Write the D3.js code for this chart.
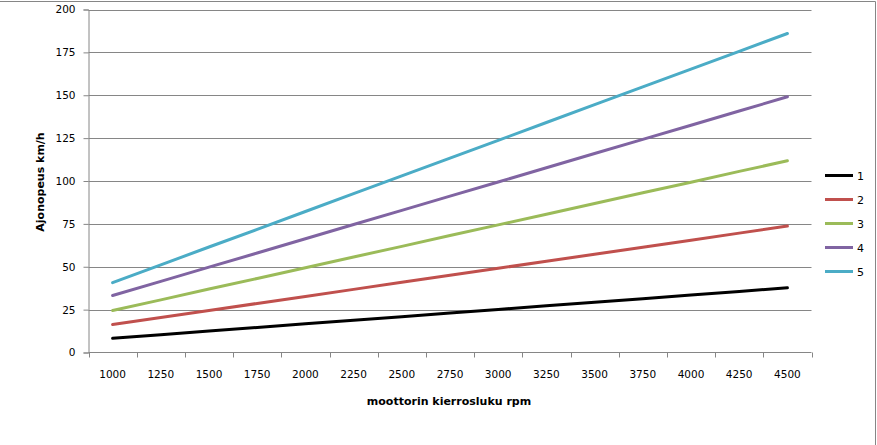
<!DOCTYPE html>
<html>
<head>
<meta charset="utf-8">
<script src="https://cdn.jsdelivr.net/npm/d3@7"></script>
<style>
  html, body { margin: 0; padding: 0; background: #fff; }
  svg { display: block; }
  text { font-family: "DejaVu Sans", Verdana, sans-serif; fill: #000; }
</style>
</head>
<body>
<svg id="chart" width="877" height="445"></svg>
<script>
// ---- data ----
const categories = ["1000","1250","1500","1750","2000","2250","2500","2750","3000","3250","3500","3750","4000","4250","4500"];
const seriesNames = ["1","2","3","4","5"];
const s1 = [8.3, 10.4, 12.5, 14.6, 16.7, 18.8, 20.9, 23.0, 25.1, 27.2, 29.3, 31.4, 33.5, 35.6, 37.7];
const s2 = [16.3, 20.4, 24.5, 28.6, 32.7, 36.8, 40.9, 45.0, 49.1, 53.2, 57.3, 61.4, 65.5, 69.6, 73.7];
const s3 = [24.5, 30.7, 37.0, 43.2, 49.4, 55.7, 61.9, 68.2, 74.4, 80.6, 86.9, 93.1, 99.3, 105.6, 111.8];
const s4 = [33.2, 41.5, 49.8, 58.0, 66.3, 74.6, 82.9, 91.2, 99.4, 107.7, 116.0, 124.3, 132.5, 140.8, 149.1];
const s5 = [40.7, 51.1, 61.5, 71.8, 82.2, 92.6, 103.0, 113.3, 123.7, 134.1, 144.5, 154.9, 165.2, 175.6, 186.0];
const yTicks = [0, 25, 50, 75, 100, 125, 150, 175, 200];
const colors = ["#000000", "#C0504D", "#9BBB59", "#8064A2", "#4BACC6"];
const xTitle = "moottorin kierrosluku rpm";
const yTitle = "Ajonopeus km/h";

const allSeries = [s1, s2, s3, s4, s5];

const svg = d3.select("#chart");
const axisColor = "#868686";

// chart frame
svg.append("path")
  .attr("d", "M0,1.5 H875.5 V445")
  .attr("fill", "none").attr("stroke", axisColor).attr("stroke-width", 1);

const plot = { left: 88.5, right: 811.5, top: 9.5, bottom: 352.5 };

const x = d3.scaleBand().domain(categories).range([plot.left, plot.right]).paddingInner(0).paddingOuter(0);
const y = d3.scaleLinear().domain([0, 200]).range([plot.bottom, plot.top]);

// gridlines
svg.append("g").selectAll("line").data(yTicks.filter(d => d > 0)).join("line")
  .attr("x1", plot.left).attr("x2", plot.right)
  .attr("y1", d => Math.round(y(d)) + 0.5).attr("y2", d => Math.round(y(d)) + 0.5)
  .attr("stroke", axisColor).attr("stroke-width", 1);

// y axis
const yAxis = svg.append("g").attr("transform", `translate(${plot.left},0)`)
  .call(d3.axisLeft(y).tickValues(yTicks).tickSize(5).tickPadding(8));
yAxis.select(".domain").attr("stroke", axisColor);
yAxis.selectAll(".tick line").attr("stroke", axisColor);
yAxis.selectAll(".tick text").attr("font-size", "10.5px").attr("font-family", "DejaVu Sans, sans-serif").attr("fill", "#000");

// x axis: ticks at category boundaries
const boundaries = categories.map(c => x(c)).concat([x(categories[categories.length - 1]) + x.bandwidth()]);
const xg = svg.append("g");
xg.append("line").attr("x1", plot.left).attr("x2", plot.right)
  .attr("y1", plot.bottom).attr("y2", plot.bottom).attr("stroke", axisColor);
xg.selectAll("line.tk").data(boundaries).join("line").attr("class", "tk")
  .attr("x1", d => Math.round(d) + 0.5).attr("x2", d => Math.round(d) + 0.5)
  .attr("y1", plot.bottom).attr("y2", plot.bottom + 5).attr("stroke", axisColor);
xg.selectAll("text").data(categories).join("text")
  .attr("x", d => x(d) + x.bandwidth() / 2)
  .attr("y", 378)
  .attr("text-anchor", "middle")
  .attr("font-size", "10.5px")
  .text(d => d);

// axis titles
svg.append("text").attr("x", 449).attr("y", 405).attr("text-anchor", "middle")
  .attr("font-size", "11px").attr("font-weight", "bold")
  .attr("font-family", "Liberation Sans, Arial, sans-serif").text(xTitle);
svg.append("text").attr("transform", "translate(44,182) rotate(-90)").attr("text-anchor", "middle")
  .attr("font-size", "11px").attr("font-weight", "bold")
  .attr("font-family", "Liberation Sans, Arial, sans-serif").text(yTitle);

// lines
const line = d3.line().x((d, i) => x(categories[i]) + x.bandwidth() / 2).y(d => y(d));
svg.append("g").selectAll("path").data(allSeries).join("path")
  .attr("d", d => line(d))
  .attr("fill", "none")
  .attr("stroke", (d, i) => colors[i])
  .attr("stroke-width", 3)
  .attr("stroke-linejoin", "round")
  .attr("stroke-linecap", "round");

// legend
const lg = svg.append("g").selectAll("g").data(seriesNames).join("g")
  .attr("transform", (d, i) => `translate(825,${175.5 + i * 24})`);
lg.append("line").attr("x1", 0).attr("x2", 28).attr("y1", 0).attr("y2", 0)
  .attr("stroke", (d, i) => colors[i]).attr("stroke-width", 3);
lg.append("text").attr("x", 32).attr("y", 4).attr("font-size", "11px").text(d => d);
</script>
</body>
</html>
